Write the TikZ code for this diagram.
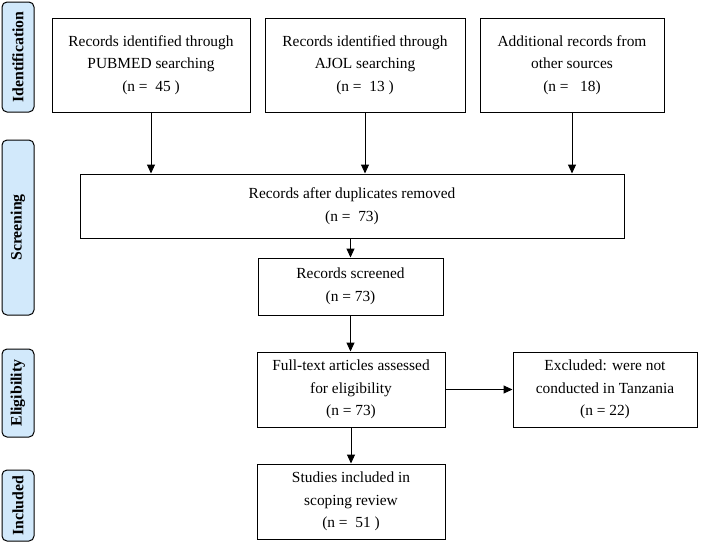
\documentclass[tikz,border=0pt]{standalone}
\usepackage{fontspec}
\setmainfont{Liberation Serif}
\usetikzlibrary{arrows.meta}
\definecolor{sidefill}{HTML}{D2E9FB}
\tikzset{
  box/.style={draw, line width=1pt, align=center, inner sep=2pt, font=\fontsize{15.4}{22.5}\selectfont},
  side/.style={draw, line width=1pt, rounded corners=5pt, fill=sidefill, font=\fontsize{15.8}{18}\selectfont\bfseries, rotate=90, inner sep=0pt},
  arr/.style={line width=1pt, -{Triangle[length=9pt,width=8pt]}}
}
\begin{document}
\begin{tikzpicture}[x=1pt,y=-1pt]
\useasboundingbox (0,0) rectangle (701,550);
% side labels
\node[side, minimum width=110, minimum height=32] (sid) at (18,57) {Identification};
\node[side, minimum width=175, minimum height=32] (ssc) at (18,227.5) {Screening};
\node[side, minimum width=88, minimum height=32] (sel) at (18,393) {Eligibility};
\node[side, minimum width=71, minimum height=32] (sin) at (18,505.5) {Included};
% boxes
\node[box, minimum width=198, minimum height=94] (b1) at (151,65) {Records identified through\\PUBMED searching\\(n =\ \ 45 )};
\node[box, minimum width=200, minimum height=94] (b2) at (365,65) {Records identified through\\AJOL searching\\(n =\ \ 13 )};
\node[box, minimum width=184, minimum height=94] (b3) at (572,65) {Additional records from\\other sources\\(n = \ \ 18)};
\node[box, minimum width=544, minimum height=64] (dup) at (352,206) {Records after duplicates removed\\(n =\ \ 73)};
\node[box, minimum width=185, minimum height=57] (scr) at (350.5,286.5) {Records screened\\(n = 73)};
\node[box, minimum width=188, minimum height=75] (ft) at (351,389.5) {Full-text articles assessed\\for eligibility\\(n = 73)};
\node[box, minimum width=184, minimum height=75] (ex) at (605,389.5) {Excluded: were not\\conducted in Tanzania\\(n = 22)};
\node[box, minimum width=188, minimum height=75] (inc) at (351,501.5) {Studies included in\\scoping review\\(n =\ \ 51 )};
% arrows
\draw[arr] (b1.south) -- (b1.south |- dup.north);
\draw[arr] (b2.south) -- (b2.south |- dup.north);
\draw[arr] (b3.south) -- (b3.south |- dup.north);
\draw[arr] (scr.north |- dup.south) -- (scr.north);
\draw[arr] (scr.south) -- (ft.north -| scr.south);
\draw[arr] (ft.south) -- (inc.north);
\draw[arr] (ft.east) -- (ex.west);
\end{tikzpicture}
\end{document}
